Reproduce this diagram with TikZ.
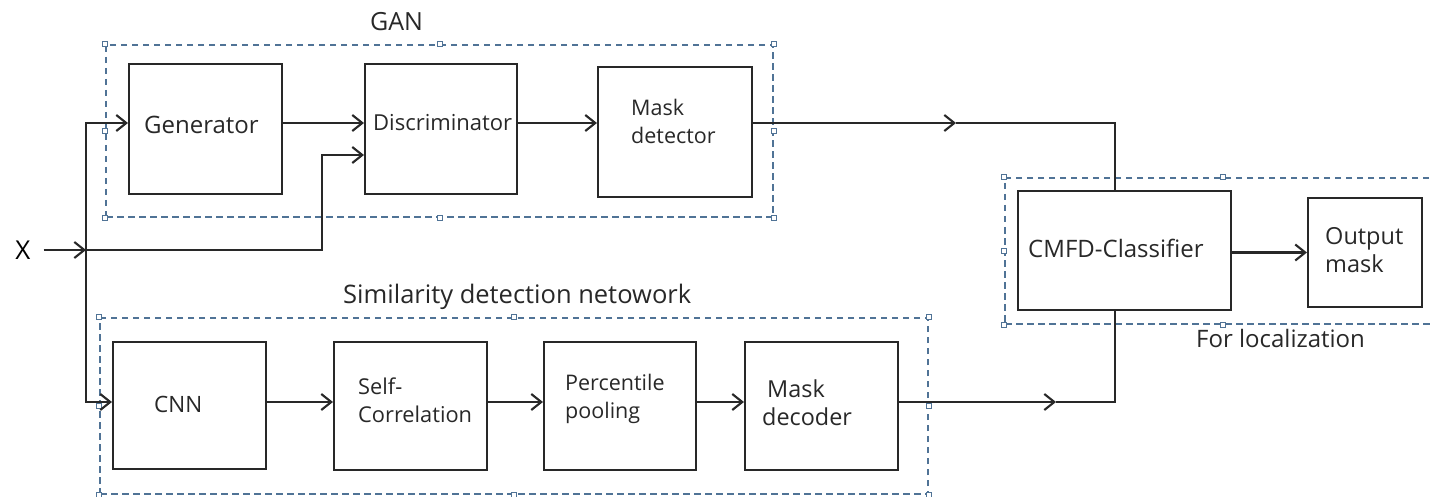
\documentclass[tikz,border=0pt]{standalone}
\usepackage{fontspec}
\setmainfont{Open Sans}
\usetikzlibrary{arrows.meta}
\definecolor{ink}{RGB}{40,40,40}
\definecolor{framec}{RGB}{80,115,150}

\begin{document}
\begin{tikzpicture}[x=1pt,y=-1pt,
  block/.style={draw=ink, line width=2.1pt, fill=white, inner sep=0pt},
  txt/.style={text=ink, inner sep=0pt, align=left, anchor=west},
  fs/.style={font=\fontsize{#1}{28}\selectfont},
  group/.style={draw=framec, line width=1.3pt, dash pattern=on 6.5pt off 4.5pt,
    inner sep=0pt},
  handle/.style={draw=framec, fill=white, line width=0.8pt},
  wire/.style={draw=ink, line width=2.1pt},
  arr/.style={wire, -{Straight Barb[length=10pt, width=16pt, line width=2.1pt]}},
]
\clip (0,0) rectangle (1430,497);
\fill[white] (0,0) rectangle (1430,497);

% dashed grouping frames
\node[group, minimum width=667pt, minimum height=172pt] (gan) at (439.5,131) {};
\node[group, minimum width=828pt, minimum height=176pt] (sim) at (514,406) {};
\node[group, minimum width=436pt, minimum height=146pt] (loc) at (1223,251) {};
\foreach \f in {gan, sim, loc}
  \foreach \a in {north west, north, north east, east, south east, south, south west, west}
    \draw[handle] (\f.\a) ++(-2.5,-2.5) rectangle ++(5,5);

% group titles
\node[txt, fs=25] (gant) at (370,22) {GAN};
\node[txt, fs=25.5] (simt) at (343,297) {Similarity detection netowork};
\node[txt, fs=24] (loct) at (1196,338) {For localization};

% blocks
\node[block, minimum width=153pt, minimum height=130pt] (gen)  at (205.5,129) {};
\node[block, minimum width=152pt, minimum height=130pt] (disc) at (441,129) {};
\node[block, minimum width=154pt, minimum height=130pt] (mdet) at (675,132) {};
\node[block, minimum width=213pt, minimum height=119pt] (cmfd) at (1124.5,250.5) {};
\node[block, minimum width=114pt, minimum height=109pt] (out)  at (1365,252.5) {};
\node[block, minimum width=153pt, minimum height=127pt] (cnn)  at (189.5,405.5) {};
\node[block, minimum width=153pt, minimum height=128pt] (self) at (410.5,406) {};
\node[block, minimum width=152pt, minimum height=128pt] (perc) at (620,406) {};
\node[block, minimum width=153pt, minimum height=128pt] (mdec) at (821.5,406) {};

% block texts
\node[txt, fs=24]   (gent)  at (144,125) {Generator};
\node[txt, fs=22]   (disct) at (373,123) {Discriminator};
\node[txt, fs=21.5] (mdett) at (631,121) {Mask\\detector};
\node[txt, fs=24]   (cmfdt) at (1028,248) {CMFD-Classifier};
\node[txt, fs=23.5] (outt)  at (1325,250) {Output\\mask};
\node[txt, fs=22.5] (cnnt)  at (154,404) {CNN};
\node[txt, fs=21.8] (selft) at (358,400.5) {Self-\\Correlation};
\node[txt, fs=21.5] (perct) at (565,399) {Percentile\\pooling};
\node[txt, fs=23.4] (mdect) at (762,402.5) {\hspace*{5pt}Mask\\decoder};

% input
\node[text=black, inner sep=0pt, font=\fontsize{26}{28}\selectfont] (x) at (23,250) {X};

% routing points
\coordinate (split) at (86,250);
\coordinate (r1) at (0,123);
\coordinate (r2) at (322,155);
\coordinate (r3) at (0,402);
\coordinate (tc) at (1115,123);
\coordinate (bc) at (1115,402);
\coordinate (m1) at (956,123);
\coordinate (m2) at (1056,402);

% connectors
\draw[arr] (x.east) ++(13,0) -- (split);
\draw[arr] (split) |- (gen.west |- r1);
\draw[arr] (split) -| (r2) -- (disc.west |- r2);
\draw[arr] (split) |- (cnn.west |- r3);
\draw[arr] (gen.east |- r1) -- (disc.west |- r1);
\draw[arr] (disc.east |- r1) -- (mdet.west |- r1);
\draw[arr] (mdet.east |- r1) -- (m1);
\draw[wire] (m1) -- (tc) -- (cmfd.north -| tc);
\draw[arr] (cmfd.east |- out.west) -- (out.west);
\draw[arr] (cnn.east |- r3) -- (self.west |- r3);
\draw[arr] (self.east |- r3) -- (perc.west |- r3);
\draw[arr] (perc.east |- r3) -- (mdec.west |- r3);
\draw[arr] (mdec.east |- r3) -- (m2);
\draw[wire] (m2) -- (bc) -- (cmfd.south -| bc);
\end{tikzpicture}
\end{document}
